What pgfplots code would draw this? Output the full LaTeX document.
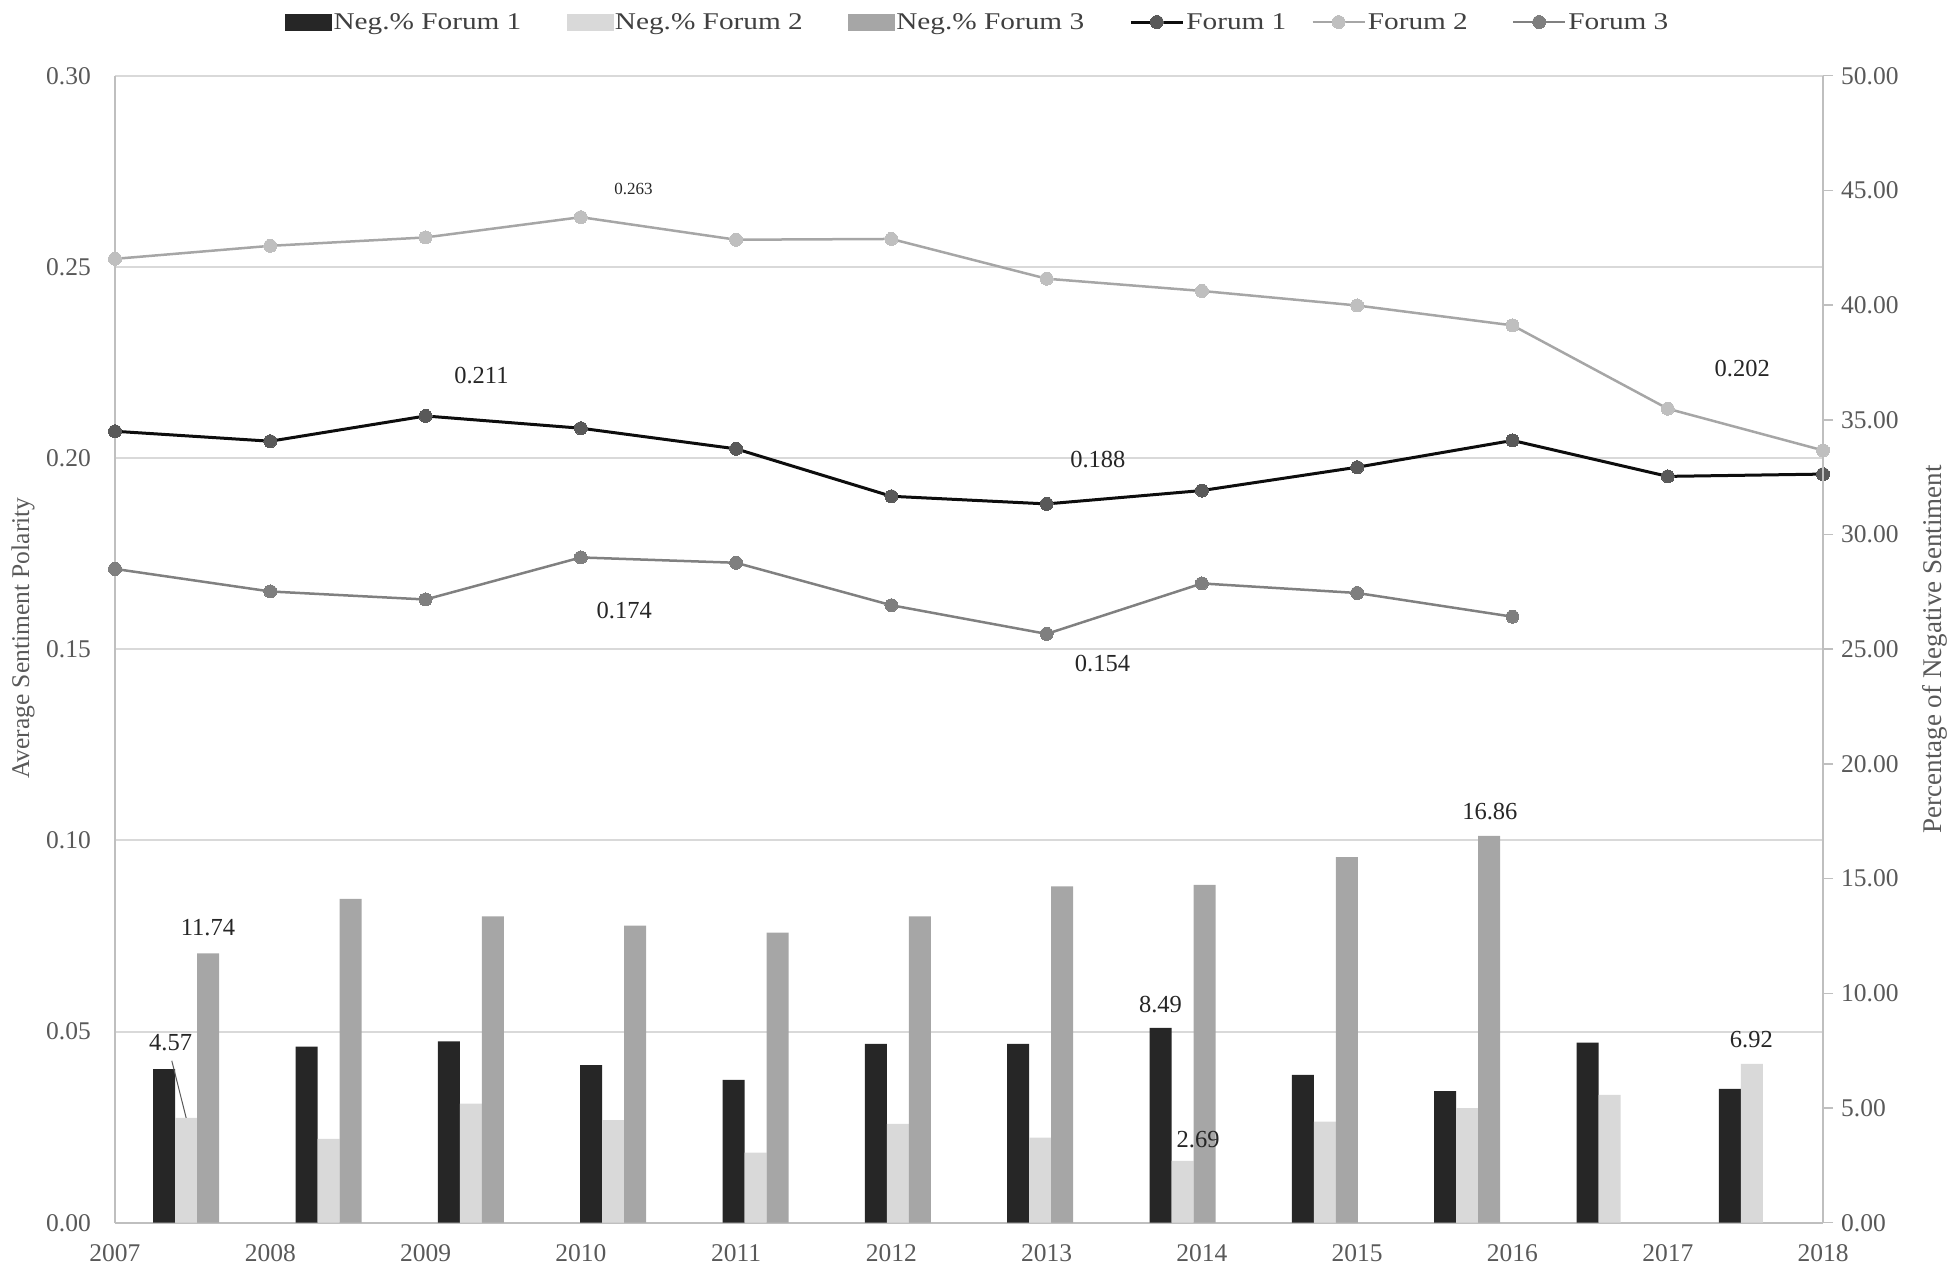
\documentclass[border=0pt]{standalone}
\usepackage{fontspec}
\setmainfont{Liberation Serif}
\newfontfamily\legfont[FakeStretch=1.22]{Liberation Serif}
\usepackage{pgfplots}
\pgfplotsset{compat=1.18}
\definecolor{barA}{HTML}{262626}
\definecolor{barB}{HTML}{D9D9D9}
\definecolor{barC}{HTML}{A6A6A6}
\definecolor{lineA}{HTML}{0D0D0D}
\definecolor{markA}{HTML}{595959}
\definecolor{lineB}{HTML}{A6A6A6}
\definecolor{markB}{HTML}{BFBFBF}
\definecolor{lineC}{HTML}{808080}
\definecolor{markC}{HTML}{7F7F7F}
\definecolor{gridc}{HTML}{D9D9D9}
\definecolor{axisc}{HTML}{BFBFBF}
\definecolor{tickc}{HTML}{595959}
\definecolor{labc}{HTML}{262626}
\definecolor{legc}{HTML}{404040}
\newcommand{\tk}{\fontsize{25.5bp}{30bp}\selectfont}
\newcommand{\dl}{\fontsize{24.5bp}{29bp}\selectfont}
\begin{document}
\begin{tikzpicture}[x=1bp,y=1bp]
% ---------------- lines (left axis) ----------------
\begin{axis}[
  name=la, at={(0,0)}, anchor=south west, scale only axis,
  width=1708bp, height=1147bp,
  xmin=0, xmax=11, ymin=0, ymax=0.30,
  axis y line*=left, axis x line*=bottom,
  axis line style={axisc, line width=2bp, -},
  xtick={0,1,2,3,4,5,6,7,8,9,10,11},
  xticklabels={2007,2008,2009,2010,2011,2012,2013,2014,2015,2016,2017,2018},
  ytick={0,0.05,0.1,0.15,0.2,0.25,0.3},
  major tick length=0pt,
  ymajorgrids, grid style={gridc, line width=2bp},
  yticklabel style={/pgf/number format/fixed, /pgf/number format/fixed zerofill, /pgf/number format/precision=2},
  /pgf/number format/assume math mode=true,
  ticklabel style={font=\tk, text=tickc},
  yticklabel style={inner sep=0pt, anchor=east, xshift=-24bp},
  xticklabel style={inner sep=0pt, anchor=north, yshift=-22bp},
  ylabel={Average Sentiment Polarity},
  ylabel style={font=\tk, text=tickc, at={(rel axis cs:0,0.5)}, anchor=center, yshift=92bp, xshift=11bp},
  legend style={at={(0.0995,1.0468)}, anchor=west, draw=none, fill=none, inner sep=0pt,
    legend columns=6, font=\legfont\fontsize{24bp}{28bp}\selectfont, text=legc,
    nodes={inner sep=2bp}, /tikz/every even column/.append style={column sep=0bp}},
  legend cell align=left,
  legend image code/.code={\draw[mark repeat=2, mark phase=2, #1] plot coordinates {(0bp,0bp) (26bp,0bp) (52bp,0bp)};},
  clip=false,
]
\addlegendimage{legend image code/.code={\fill[barA] (0bp,-8bp) rectangle (46bp,8bp);}}
\addlegendentry{\makebox[231bp][l]{Neg.\% Forum 1}}
\addlegendimage{legend image code/.code={\fill[barB] (0bp,-8bp) rectangle (46bp,8bp);}}
\addlegendentry{\makebox[231bp][l]{Neg.\% Forum 2}}
\addlegendimage{legend image code/.code={\fill[barC] (0bp,-8bp) rectangle (46bp,8bp);}}
\addlegendentry{\makebox[231bp][l]{Neg.\% Forum 3}}

\addplot[lineA, line width=3bp, mark=*, mark size=6.5bp, mark options={fill=markA, draw=markA, line width=0pt}]
 coordinates {(0,0.2070) (1,0.2044) (2,0.2110) (3,0.2078) (4,0.2024) (5,0.1900) (6,0.1880) (7,0.1915) (8,0.1976) (9,0.2046) (10,0.1952) (11,0.1958)};
\addlegendentry{\makebox[123bp][l]{Forum 1}}
\addplot[lineB, line width=2.5bp, mark=*, mark size=6.5bp, mark options={fill=markB, draw=markB, line width=0pt}]
 coordinates {(0,0.2521) (1,0.2555) (2,0.2577) (3,0.2630) (4,0.2571) (5,0.2573) (6,0.2469) (7,0.2437) (8,0.2399) (9,0.2347) (10,0.2129) (11,0.2020)};
\addlegendentry{\makebox[142bp][l]{Forum 2}}
\addplot[lineC, line width=2.5bp, mark=*, mark size=6.5bp, mark options={fill=markC, draw=markC, line width=0pt}]
 coordinates {(0,0.1710) (1,0.1651) (2,0.1630) (3,0.1740) (4,0.1726) (5,0.1615) (6,0.1540) (7,0.1672) (8,0.1647) (9,0.1585)};
\addlegendentry{Forum 3}

\node[font=\fontsize{17bp}{20bp}\selectfont, text=labc] at (axis cs:3.34,0.2703) {0.263};
\node[font=\dl, text=labc] at (axis cs:2.36,0.2215) {0.211};
\node[font=\dl, text=labc] at (axis cs:3.28,0.1602) {0.174};
\node[font=\dl, text=labc] at (axis cs:6.33,0.1996) {0.188};
\node[font=\dl, text=labc] at (axis cs:6.36,0.1463) {0.154};
\node[font=\dl, text=labc] at (axis cs:10.48,0.2235) {0.202};
\end{axis}
% ---------------- bars (right axis) ----------------
\begin{axis}[
  at={(0,0)}, anchor=south west, scale only axis,
  width=1708bp, height=1147bp,
  xmin=-0.5, xmax=11.5, ymin=0, ymax=50,
  ybar=0pt, bar width=22bp,
  axis x line=none, axis y line*=right,
  axis line style={axisc, line width=2bp, -},
  ytick={0,5,10,15,20,25,30,35,40,45,50},
  tick align=outside, major tick length=10bp,
  tick style={axisc, line width=1.5bp},
  yticklabel style={/pgf/number format/fixed, /pgf/number format/fixed zerofill, /pgf/number format/precision=2},
  /pgf/number format/assume math mode=true,
  ticklabel style={font=\tk, text=tickc},
  yticklabel style={inner sep=0pt, anchor=west, xshift=8bp},
  ylabel={Percentage of Negative Sentiment},
  ylabel style={font=\fontsize{27bp}{32bp}\selectfont, text=tickc, at={(rel axis cs:1,0.5)}, anchor=center, yshift=-112bp},
  clip=false,
]
\addplot[fill=barA, draw=none] coordinates {(0,6.70) (1,7.68) (2,7.90) (3,6.87) (4,6.23) (5,7.80) (6,7.80) (7,8.49) (8,6.44) (9,5.74) (10,7.85) (11,5.83)};
\addplot[fill=barB, draw=none] coordinates {(0,4.57) (1,3.65) (2,5.19) (3,4.47) (4,3.05) (5,4.31) (6,3.71) (7,2.69) (8,4.41) (9,5.00) (10,5.57) (11,6.92)};
\addplot[fill=barC, draw=none] coordinates {(0,11.74) (1,14.12) (2,13.35) (3,12.95) (4,12.64) (5,13.35) (6,14.66) (7,14.73) (8,15.94) (9,16.86)};

\node[font=\dl, text=labc] at (axis cs:0.153,12.86) {11.74};
\node[font=\dl, text=labc] at (axis cs:-0.109,7.85) {4.57};
\draw[tickc, line width=1bp] (axis cs:-0.101,7.06) -- (axis cs:0.0,4.57);
\node[font=\dl, text=labc] at (axis cs:6.845,9.50) {8.49};
\node[font=\dl, text=labc] at (axis cs:7.11,3.64) {2.69};
\node[font=\dl, text=labc] at (axis cs:9.159,17.93) {16.86};
\node[font=\dl, text=labc] at (axis cs:10.997,8.00) {6.92};
\end{axis}
\pgfresetboundingbox
\path[use as bounding box] (la.south west) ++(-115,-46.3) rectangle ++(1953,1269);
\end{tikzpicture}
\end{document}
